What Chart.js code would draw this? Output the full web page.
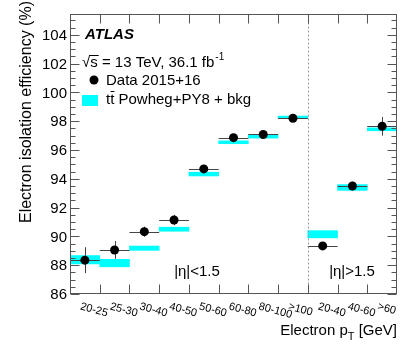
<!DOCTYPE html>
<html>
<head>
<meta charset="utf-8">
<script src="https://cdn.jsdelivr.net/npm/chart.js@4"></script>
<style>
html,body{margin:0;padding:0;background:#fff;}
canvas{display:block;}
</style>
</head>
<body>
<canvas id="c" width="414" height="353"></canvas>
<script>
// ---- data ----
const categories = ['20-25','25-30','30-40','40-50','50-60','60-80','80-100','>100','20-40','40-60','>60'];
const dataEff = [88.35, 89.06, 90.33, 91.14, 94.69, 96.86, 97.08, 98.21, 89.34, 93.50, 97.65];
const dataErr = [0.90, 0.62, 0.35, 0.35, 0.24, 0.20, 0.20, 0.12, 0.25, 0.30, 0.65];
const mcEff   = [88.38, 88.15, 89.18, 90.50, 94.33, 96.54, 96.95, 98.28, 90.15, 93.40, 97.44];
const mcErr   = [0.29, 0.26, 0.15, 0.14, 0.13, 0.10, 0.12, 0.08, 0.25, 0.20, 0.10];
const yTickLabels = [86, 88, 90, 92, 94, 96, 98, 100, 102, 104];
const regionLabels = ['|\u03b7|<1.5', '|\u03b7|>1.5'];
const splitAfter = 7; // dashed separator after the '>100' bin

const FONT = '"Liberation Sans", Arial, Helvetica, sans-serif';

const decor = {
  id: 'decor',
  beforeDatasetDraw(chart, args) {
    if (args.index !== 0) return;
    const ctx = chart.ctx, xs = chart.scales.x, ys = chart.scales.y;
    const n = categories.length;
    const bw = (chart.chartArea.right - chart.chartArea.left) / n;
    ctx.save();
    ctx.strokeStyle = '#444';
    ctx.lineWidth = 1;
    for (let i = 0; i < n; i++) {
      const cx = xs.getPixelForValue(i);
      const cy = ys.getPixelForValue(dataEff[i]);
      const y1 = ys.getPixelForValue(dataEff[i] + dataErr[i]);
      const y2 = ys.getPixelForValue(dataEff[i] - dataErr[i]);
      ctx.beginPath();
      ctx.moveTo(Math.round(cx) + 0.5, y1);
      ctx.lineTo(Math.round(cx) + 0.5, y2);
      ctx.moveTo(cx - bw / 2, Math.round(cy) + 0.5);
      ctx.lineTo(cx + bw / 2, Math.round(cy) + 0.5);
      ctx.stroke();
    }
    ctx.restore();
  },
  afterDraw(chart) {
    const ctx = chart.ctx, xs = chart.scales.x, ys = chart.scales.y, a = chart.chartArea;
    const n = categories.length;
    const L = Math.round(a.left) + 0.5, R = Math.round(a.right) - 0.5;
    const T = Math.round(a.top) + 0.5, B = Math.round(a.bottom) - 0.5;
    ctx.save();
    // separator
    const sx = Math.round((xs.getPixelForValue(splitAfter) + xs.getPixelForValue(splitAfter + 1)) / 2) + 0.5;
    ctx.strokeStyle = '#999';
    ctx.setLineDash([2, 2]);
    ctx.beginPath(); ctx.moveTo(sx, T); ctx.lineTo(sx, B); ctx.stroke();
    ctx.setLineDash([]);

    // frame
    ctx.strokeStyle = '#555';
    ctx.lineWidth = 1;
    ctx.strokeRect(L, T, R - L, B - T);

    // y ticks (left + right), major every 2, minor every 0.5
    ctx.beginPath();
    for (let k = 0; ; k++) {
      const v = ys.min + k * 0.5;
      if (v > ys.max) break;
      const y = Math.round(ys.getPixelForValue(v)) + 0.5;
      const len = (k % 4 === 0) ? 9 : 5;
      ctx.moveTo(L, y); ctx.lineTo(L + len, y);
      ctx.moveTo(R, y); ctx.lineTo(R - len, y);
    }
    // x ticks at bin boundaries (bottom + top)
    for (let i = 1; i < n; i++) {
      const x = Math.round((xs.getPixelForValue(i - 1) + xs.getPixelForValue(i)) / 2) + 0.5;
      ctx.moveTo(x, B); ctx.lineTo(x, B - 9);
      ctx.moveTo(x, T); ctx.lineTo(x, T + 9);
    }
    ctx.stroke();

    ctx.fillStyle = '#000';
    // y tick labels
    ctx.font = '15px ' + FONT;
    ctx.textAlign = 'right';
    ctx.textBaseline = 'middle';
    yTickLabels.forEach(v => ctx.fillText(String(v), a.left - 3, ys.getPixelForValue(v) + 1));

    // x tick labels (rotated clockwise)
    ctx.font = '11px ' + FONT;
    ctx.textAlign = 'left';
    ctx.textBaseline = 'top';
    categories.forEach((c, i) => {
      const cx = xs.getPixelForValue(i);
      ctx.save();
      ctx.translate(cx - 3, a.bottom + 7);
      ctx.rotate(15 * Math.PI / 180);
      ctx.fillText(c, 0, 0);
      ctx.restore();
    });

    // y title
    ctx.save();
    ctx.font = '16px ' + FONT;
    ctx.translate(27, 1);
    ctx.rotate(-Math.PI / 2);
    ctx.textAlign = 'right';
    ctx.textBaseline = 'middle';
    ctx.fillText('Electron isolation efficiency (%)', 0, 0);
    ctx.restore();

    // x title with subscript
    ctx.textBaseline = 'alphabetic';
    ctx.textAlign = 'left';
    const f1 = '15px ' + FONT, f2 = '11px ' + FONT;
    ctx.font = f1; const w1 = ctx.measureText('Electron p').width, w3 = ctx.measureText(' [GeV]').width;
    ctx.font = f2; const w2 = ctx.measureText('T').width;
    let x0 = a.right - (w1 + w2 + w3);
    ctx.font = f1; ctx.fillText('Electron p', x0, 335);
    ctx.font = f2; ctx.fillText('T', x0 + w1, 340);
    ctx.font = f1; ctx.fillText(' [GeV]', x0 + w1 + w2, 335);

    // region labels
    ctx.font = '15px ' + FONT;
    ctx.textAlign = 'center';
    ctx.textBaseline = 'middle';
    ctx.fillText(regionLabels[0], 197, 272);
    ctx.fillText(regionLabels[1], 352, 272);

    // ATLAS
    ctx.textAlign = 'left';
    ctx.font = 'italic bold 15px ' + FONT;
    ctx.fillText('ATLAS', 85, 35);

    // sqrt(s) line
    ctx.font = '15px ' + FONT;
    let x = 82;
    ctx.fillText('\u221A', x, 63);
    x += ctx.measureText('\u221A').width;
    const sw = ctx.measureText('s').width;
    ctx.beginPath(); ctx.moveTo(x - 1, 55.5); ctx.lineTo(x + sw + 1, 55.5); ctx.strokeStyle = '#000'; ctx.stroke();
    const rest = 's = 13 TeV, 36.1 fb';
    ctx.fillText(rest, x, 63);
    x += ctx.measureText(rest).width;
    ctx.font = '10px ' + FONT;
    ctx.fillText('-1', x + 1, 57);

    // legend: data
    ctx.beginPath(); ctx.arc(94, 80, 4.5, 0, Math.PI * 2); ctx.fillStyle = '#000'; ctx.fill();
    ctx.font = '15px ' + FONT;
    ctx.fillText('Data 2015+16', 106, 81);
    // legend: MC
    ctx.fillStyle = '#00ffff';
    ctx.fillRect(82, 95, 16, 11);
    ctx.fillStyle = '#000';
    ctx.fillText('tt', 106, 100);
    const tw = ctx.measureText('t').width;
    ctx.beginPath(); ctx.moveTo(106 + tw + 0.5, 91.5); ctx.lineTo(106 + 2 * tw, 91.5); ctx.stroke();
    ctx.fillText(' Powheg+PY8 + bkg', 106 + 2 * tw, 100);
    ctx.restore();
  }
};

new Chart(document.getElementById('c'), {
  type: 'bar',
  data: {
    labels: categories,
    datasets: [
      {
        type: 'line',
        label: 'Data 2015+16',
        data: dataEff,
        showLine: false,
        pointRadius: 4.5,
        pointBackgroundColor: '#000',
        pointBorderColor: '#000',
        pointBorderWidth: 0,
        order: 0
      },
      {
        type: 'bar',
        label: 'tt Powheg+PY8 + bkg',
        data: mcEff.map((v, i) => [v - mcErr[i], v + mcErr[i]]),
        backgroundColor: '#00ffff',
        borderWidth: 0,
        barPercentage: 1,
        categoryPercentage: 1,
        order: 1
      }
    ]
  },
  options: {
    responsive: false,
    animation: false,
    layout: { padding: { left: 70, right: 17, top: 14, bottom: 59 } },
    plugins: { legend: { display: false }, tooltip: { enabled: false } },
    scales: {
      x: { display: false },
      y: { display: false, min: 86, max: 105.45 }
    }
  },
  plugins: [decor]
});
</script>
</body>
</html>
